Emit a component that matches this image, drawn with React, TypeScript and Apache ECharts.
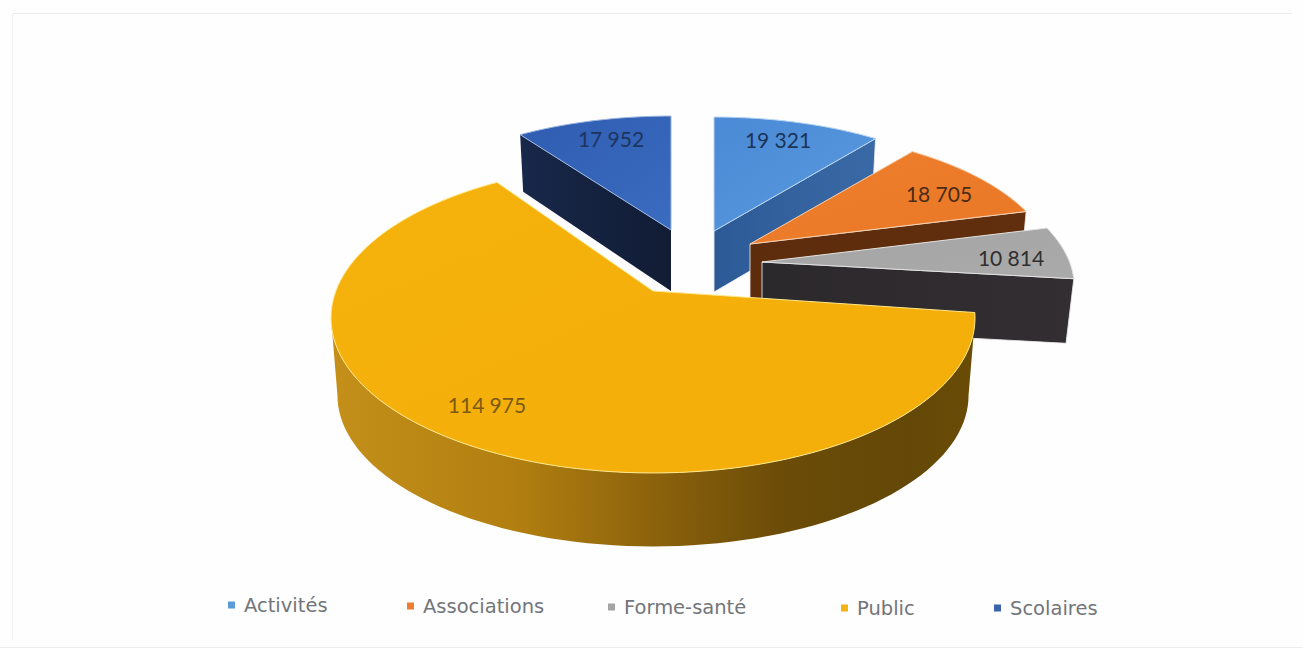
import React, { useEffect, useRef } from "react";
import * as echarts from "echarts";

const categories = ["Activités", "Associations", "Forme-santé", "Public", "Scolaires"];
const values = [19321, 18705, 10814, 114975, 17952];
const total = values.reduce((a, b) => a + b, 0);

// layout of the exploded 3D pie (styles, not data)
const RX = 322, RY = 155, VANISH = -0.174;
const apexes = [[714, 231], [750, 244], [762, 262], [653, 291], [671, 230]];
const scales = [[0.935, 0.89], [0.94, 0.89], [0.97, 0.93], [1, 1], [0.934, 0.89]];
const bottomScales = [[0.98, 1], [0.98, 1], [0.975, 0.975], [0.98, 0.975], [0.98, 1.04]];
const turns = [0, 0, 0, 1.3, 0];
const depths = [61, 60, 65, 78, 61];
const zOrder = [1, 3, 4, 5, 2];
const labelOffsets = [[64, -92], [189, -51], [249, -5], [-166, 113], [-60, -92]];
const labelColors = ["#1b3357", "#4a2c18", "#2f2f2f", "#7b5a12", "#1d3461"];
const legendColors = ["#5b9bd5", "#ed7d31", "#a5a5a5", "#f2b20f", "#3a62ad"];
const legendLefts = [228, 407, 608, 841, 994];
const legendTops = [595, 596, 597, 598, 598];
const topFills = [
  ["#4a8ad6", "#5a9ade"],
  ["#ee7f2c", "#e97826"],
  ["#a4a4a4", "#aaaaaa"],
  ["#f5b10c", "#f4ae0a"],
  ["#2f5cb0", "#3a6cc0"],
];
const rimColors = ["#b5d4f2", "#f8cfae", "#e2e2e2", "#ffe88a", "#9db6e0"];
const wallStops: [number, string][][] = [
  [[0, "#2c5a96"], [1, "#3a6aa6"]],
  [[0, "#5d2c0c"], [1, "#612f0e"]],
  [[0, "#2c292c"], [1, "#322e31"]],
  [[0, "#c4901a"], [0.3, "#b07e10"], [0.5, "#8c620c"], [0.7, "#6b4c08"], [0.9, "#644807"], [1, "#6a4c05"]],
  [[0, "#18284a"], [1, "#111c34"]],
];

const fmt = (v: number) => String(v).replace(/\B(?=(\d{3})+$)/g, "\u202f");

function project(deg: number): [number, number] {
  const t = (deg * Math.PI) / 180;
  const px = Math.sin(t), py = -Math.cos(t);
  const den = 1 + VANISH * py;
  return [(px * Math.sqrt(1 - VANISH * VANISH) * RX) / den, (((py + VANISH) / den) - VANISH) * RY];
}

function buildSeries(i: number) {
  const start = (values.slice(0, i).reduce((a, b) => a + b, 0) / total) * 360;
  const end = start + (values[i] / total) * 360;
  const [ax, ay] = apexes[i];
  const [sx, sy] = scales[i];
  const [bx, by] = bottomScales[i];
  const h = depths[i];
  const top = (d: number): number[] => {
    const [x, y] = project(d + turns[i]);
    return [ax + x * sx, ay + y * sy];
  };
  const bot = (d: number): number[] => {
    const [x, y] = project(d + turns[i]);
    return [ax + x * sx * bx, ay + h + y * sy * by];
  };
  const angles: number[] = [];
  for (let d = start; d < end; d += 2) angles.push(d);
  angles.push(end);

  const wallStyle = (stroke: boolean) => ({
    fill: new echarts.graphic.LinearGradient(0, 0, 1, 0, wallStops[i].map(([offset, color]) => ({ offset, color }))),
    stroke: stroke ? "rgba(235,235,235,0.85)" : undefined,
    lineWidth: stroke ? 1 : 0,
  });

  const renderItem = () => {
    const children: any[] = [];
    const apexTop = [ax, ay], apexBot = [ax, ay + h];
    // radial walls
    if (top(start)[0] - ax < -1)
      children.push({ type: "polygon", shape: { points: [apexTop, top(start), bot(start), apexBot] }, style: wallStyle(false) });
    if (top(end)[0] - ax > 1)
      children.push({ type: "polygon", shape: { points: [apexTop, top(end), bot(end), apexBot] }, style: wallStyle(true) });
    // outer wall: the samples whose rim runs leftwards are the ones facing the viewer
    const front = angles.filter((d, k) => k + 1 < angles.length && top(angles[k + 1])[0] < top(d)[0]);
    if (front.length > 1) {
      const last = angles[angles.indexOf(front[front.length - 1]) + 1];
      const ring = [...front, last];
      children.push({
        type: "polygon",
        shape: { points: [...ring.map(top), ...ring.slice().reverse().map(bot)] },
        style: wallStyle(false),
      });
    }
    // top face
    children.push({
      type: "polygon",
      shape: { points: [apexTop, ...angles.map(top)] },
      style: {
        fill: new echarts.graphic.LinearGradient(0, 0, 1, 1, [
          { offset: 0, color: topFills[i][0] },
          { offset: 1, color: topFills[i][1] },
        ]),
        stroke: rimColors[i],
        lineWidth: 1,
      },
    });
    children.push({
      type: "text",
      x: ax + labelOffsets[i][0],
      y: ay + labelOffsets[i][1],
      style: {
        text: fmt(values[i]),
        fill: labelColors[i],
        fontFamily: "Lato",
        fontSize: 21,
        align: "center",
        verticalAlign: "middle",
      },
    });
    return { type: "group", children };
  };

  return {
    type: "custom" as const,
    name: categories[i],
    coordinateSystem: "none",
    z: 2 + zOrder[i],
    silent: true,
    itemStyle: { color: legendColors[i] },
    data: [[values[i]]],
    renderItem,
  };
}

export default function App() {
  const ref = useRef<HTMLDivElement>(null);
  useEffect(() => {
    document.body.style.margin = "0";
    document.body.style.background = "#ffffff";
    const chart = echarts.init(ref.current!, undefined, { renderer: "svg" });
    chart.setOption({
      animation: false,
      backgroundColor: "#fefefe",
      legend: categories.map((name, i) => ({
        data: [{ name, icon: "rect", itemStyle: { color: legendColors[i] } }],
        left: legendLefts[i],
        top: legendTops[i],
        padding: 0,
        itemWidth: 7,
        itemHeight: 7,
        selectedMode: false,
        textStyle: { color: "#72757a", fontFamily: "DejaVu Sans", fontSize: 19.5, padding: [0, 0, 0, 4] },
      })),
      graphic: [
        { type: "line", silent: true, shape: { x1: 12, y1: 13.5, x2: 1292, y2: 13.5 }, style: { stroke: "#eaeaea", lineWidth: 1 } },
        { type: "line", silent: true, shape: { x1: 12.5, y1: 13, x2: 12.5, y2: 640 }, style: { stroke: "#f2f2f2", lineWidth: 1 } },
        { type: "line", silent: true, shape: { x1: 0, y1: 647.5, x2: 1303, y2: 647.5 }, style: { stroke: "#ececec", lineWidth: 1 } },
      ],
      series: categories.map((_, i) => buildSeries(i)),
    });
    return () => chart.dispose();
  }, []);
  return <div ref={ref} style={{ width: 1303, height: 649 }} />;
}
